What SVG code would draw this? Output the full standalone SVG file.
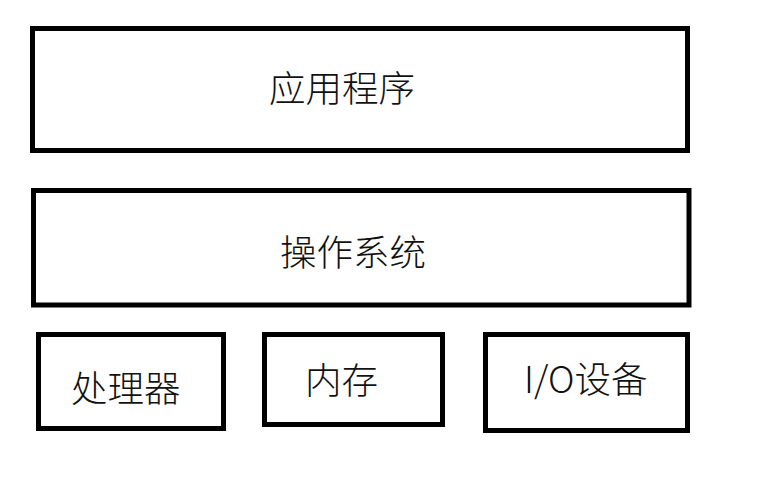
<svg xmlns="http://www.w3.org/2000/svg" width="760" height="482" viewBox="0 0 760 482">
<style>
.box{fill:#fff;stroke:#000;stroke-width:5}
.lbl{font-family:"Noto Sans CJK SC","Noto Sans",sans-serif;font-size:36.5px;font-weight:300;fill:#111}
</style>
<rect x="0" y="0" width="760" height="482" fill="#fff"/>
<g id="app"><rect class="box" x="32.5" y="28.5" width="655" height="122"/><text class="lbl" x="269" y="102">应用程序</text></g>
<g id="os"><rect class="box" x="33.5" y="190.5" width="655.5" height="114.5"/><text class="lbl" x="280" y="266">操作系统</text></g>
<g id="cpu"><rect class="box" x="38.5" y="334.5" width="185" height="94"/><text class="lbl" x="71" y="402">处理器</text></g>
<g id="mem"><rect class="box" x="264.5" y="334.5" width="178" height="90"/><text class="lbl" x="305" y="394">内存</text></g>
<g id="io"><rect class="box" x="485.5" y="334.5" width="202" height="96"/><text class="lbl" x="524" y="393">I/O设备</text></g>
<g id="connectors"></g>
</svg>
